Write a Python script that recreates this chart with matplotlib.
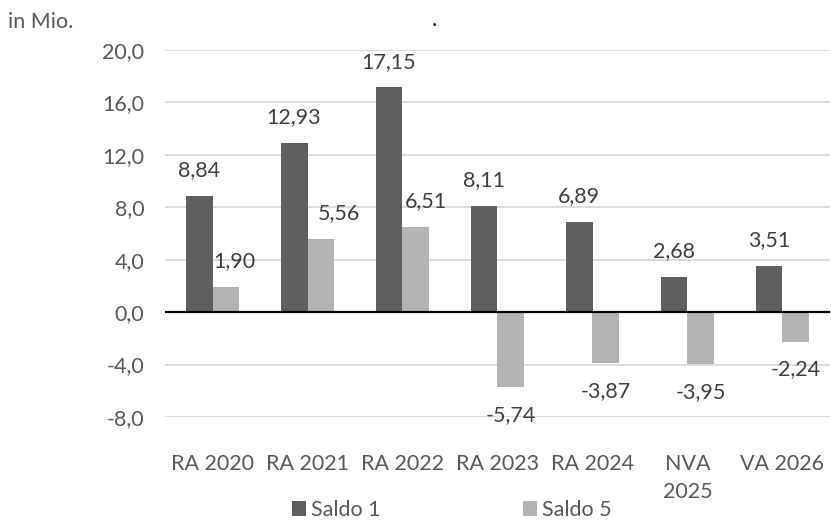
import numpy as np
import matplotlib
matplotlib.use("Agg")
import matplotlib.pyplot as plt

plt.rcParams["font.family"] = ["Lato", "DejaVu Sans"]

categories = ["RA 2020", "RA 2021", "RA 2022", "RA 2023", "RA 2024", "NVA\n2025", "VA 2026"]
saldo_1 = [8.84, 12.93, 17.15, 8.11, 6.89, 2.68, 3.51]
saldo_5 = [1.90, 5.56, 6.51, -5.74, -3.87, -3.95, -2.24]
y_ticks = [-8, -4, 0, 4, 8, 12, 16, 20]

# manual sideways nudges (points) seen on the light labels
nudge_5 = [6, 13, 7, 0, 0, 0, 0]

dark = "#5f5f5f"
light = "#b3b3b3"
fs = 15.5


def fmt(v, digits=2):
    return f"{v:.{digits}f}".replace(".", ",")


fig = plt.figure(figsize=(8.31, 5.20), dpi=100)
ax = fig.add_axes([165 / 831, 1 - 417 / 520, 665 / 831, 367 / 520])

x = np.arange(len(categories))
w = 0.284
b1 = ax.bar(x - w / 2, saldo_1, w, color=dark, label="Saldo 1", zorder=3)
b5 = ax.bar(x + w / 2, saldo_5, w, color=light, label="Saldo 5", zorder=3)

for bars, vals, nud in [(b1, saldo_1, [0] * 7), (b5, saldo_5, nudge_5)]:
    for rect, v, n in zip(bars, vals, nud):
        cx = rect.get_x() + rect.get_width() / 2
        dy = 18.5 if v >= 0 else -20
        ax.annotate(fmt(v), (cx, v), xytext=(n, dy), textcoords="offset points",
                    ha="center", va="center", fontsize=fs, color="#404040")

ax.axhline(0, color="black", lw=1.6, zorder=4)
ax.set_ylim(-8, 20)
ax.set_xlim(-0.5, len(categories) - 0.5)
ax.set_yticks(y_ticks)
ax.set_yticklabels([fmt(t, 1) for t in y_ticks])
ax.set_xticks(x)
ax.set_xticklabels(categories, linespacing=1.5)
ax.grid(axis="y", color="#d9d9d9", lw=1.3, zorder=0)
for s in ax.spines.values():
    s.set_visible(False)
ax.tick_params(axis="y", length=0, pad=15, labelsize=fs, labelcolor="#595959")
ax.tick_params(axis="x", length=0, pad=27, labelsize=fs, labelcolor="#595959")

fig.text(8 / 831, 1 - 22 / 520, "in Mio.", fontsize=fs, color="#595959", va="center")
fig.text(432 / 831, 1 - 20 / 520, ".", fontsize=fs, color="black", va="center")

fig.legend(handles=[b1, b5], loc="center", bbox_to_anchor=(452 / 831, 1 - 510 / 520),
           ncol=2, frameon=False, fontsize=fs, handlelength=0.65, handleheight=0.65,
           handletextpad=0.25, columnspacing=6.6, labelcolor="#595959")

fig.savefig("out.png", dpi=100)
